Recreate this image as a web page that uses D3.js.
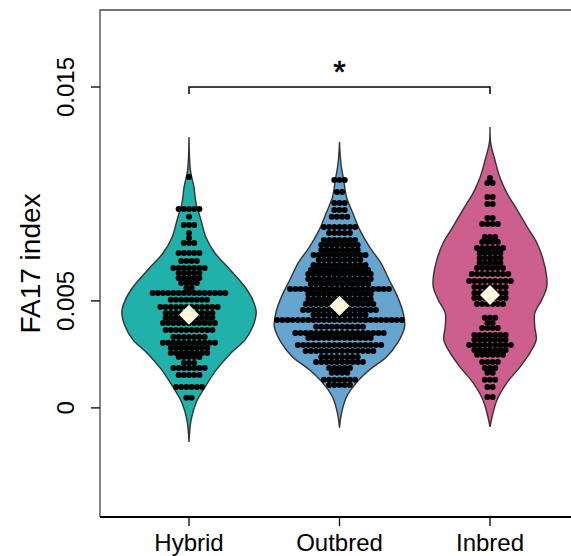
<!DOCTYPE html>
<html>
<head>
<meta charset="utf-8">
<script src="https://cdn.jsdelivr.net/npm/d3@7"></script>
<style>
  body { margin: 0; background: #fff; }
  text { font-family: "Liberation Sans", Arial, sans-serif; }
</style>
</head>
<body>
<svg id="vis" width="571" height="556"></svg>
<script>
// groups and colours
var groups = ["Hybrid", "Outbred", "Inbred"];
var colors = ["#20b2aa", "#67a5d1", "#cd5f8f"];
var yTicks = [0, 0.005, 0.015];
var yTickLabels = ["0", "0.005", "0.015"];
var means = [0.00435, 0.00477, 0.00528];

// violin outlines: [value, relative density]
var hybridDensity = [[0.01266,0],[0.01112,0.02],[0.01033,0.07],[0.00958,0.10],[0.00879,0.17],[0.00799,0.24],
  [0.00724,0.37],[0.00645,0.59],[0.00565,0.80],[0.00505,0.91],[0.00449,0.96],[0.00379,0.91],[0.00318,0.80],
  [0.00257,0.60],[0.00178,0.39],[0.00098,0.23],[0.00023,0.10],[-0.00056,0.03],[-0.00159,0]];
var outbredDensity = [[0.01243,0],[0.01145,0.02],[0.01065,0.06],[0.00986,0.10],[0.00911,0.19],[0.00832,0.29],
  [0.00752,0.43],[0.00678,0.59],[0.00598,0.71],[0.00519,0.83],[0.00444,0.91],[0.00379,0.93],[0.00304,0.83],
  [0.00238,0.67],[0.00178,0.43],[0.00117,0.24],[0.00051,0.10],[-0.00023,0.03],[-0.00093,0]];
var inbredDensity = [[0.01313,0],[0.01238,0.01],[0.01159,0.07],[0.01079,0.14],[0.01005,0.24],[0.00925,0.39],
  [0.00846,0.53],[0.00771,0.67],[0.00692,0.76],[0.00612,0.81],[0.00565,0.81],[0.00505,0.74],[0.00444,0.64],
  [0.00379,0.64],[0.00318,0.66],[0.00257,0.57],[0.00192,0.43],[0.00117,0.24],[0.00037,0.10],[-0.00042,0.03],[-0.00089,0]];

// dot rows: [value, number of dots]
var hybridDots = [[0.01079,1],[0.00930,5],[0.00893,1],[0.00855,3],[0.00818,1],[0.00794,1],[0.00771,3],[0.00724,5],
  [0.00687,4],[0.00654,7],[0.00631,5],[0.00607,5],[0.00584,4],[0.00561,2],[0.00537,15],[0.00505,8],[0.00472,12],
  [0.00444,10],[0.00421,10],[0.00397,11],[0.00364,10],[0.00332,7],[0.00304,11],[0.00280,8],[0.00257,8],[0.00238,5],
  [0.00210,3],[0.00187,7],[0.00154,5],[0.00098,6],[0.00047,2]];
var outbredDots = [[0.01065,3],[0.01009,2],[0.00958,3],[0.00925,3],[0.00893,4],[0.00846,7],[0.00818,5],[0.00785,7],
  [0.00762,8],[0.00738,8],[0.00715,11],[0.00692,9],[0.00668,11],[0.00645,12],[0.00626,13],[0.00603,13],[0.00579,12],
  [0.00556,20],[0.00533,13],[0.00509,13],[0.00486,14],[0.00458,15],[0.00435,11],[0.00411,25],[0.00379,10],[0.00350,18],
  [0.00327,13],[0.00294,17],[0.00266,14],[0.00238,8],[0.00215,10],[0.00187,5],[0.00164,4],[0.00131,7],[0.00107,5]];
var inbredDots = [[0.01075,1],[0.01051,2],[0.00986,2],[0.00953,2],[0.00888,2],[0.00860,4],[0.00799,3],[0.00776,4],
  [0.00748,6],[0.00724,5],[0.00701,5],[0.00678,5],[0.00654,6],[0.00626,8],[0.00593,9],[0.00565,7],[0.00537,7],
  [0.00514,7],[0.00486,6],[0.00421,3],[0.00397,2],[0.00374,4],[0.00341,7],[0.00318,7],[0.00294,9],[0.00271,7],
  [0.00248,6],[0.00215,4],[0.00187,3],[0.00164,2],[0.00131,3],[0.00098,2],[0.00051,2]];

var densities = [hybridDensity, outbredDensity, inbredDensity];
var dots = [hybridDots, outbredDots, inbredDots];

var svg = d3.select("#vis");
var mLeft = 100, mRight = 572, mTop = 10, mBottom = 517;

var x = d3.scalePoint().domain(groups).range([189, 490]);
var y = d3.scaleLinear().domain([-0.0051, 0.0186]).range([mBottom, mTop]);
var w = d3.scaleLinear().domain([0, 1]).range([0, 70]);
var dotStep = 5.2;

// violins
groups.forEach(function(g, i) {
  var cx = x(g);
  var area = d3.area()
    .y(function(d) { return y(d[0]); })
    .x0(function(d) { return cx - w(d[1]); })
    .x1(function(d) { return cx + w(d[1]); })
    .curve(d3.curveCatmullRom);
  svg.append("path")
    .datum(densities[i])
    .attr("d", area)
    .attr("fill", colors[i])
    .attr("stroke", "#333")
    .attr("stroke-width", 1.4);

  var pts = [];
  dots[i].forEach(function(r) {
    for (var k = 0; k < r[1]; k++) pts.push({ v: r[0], off: (k - (r[1] - 1) / 2) * dotStep });
  });
  svg.append("g").selectAll("circle")
    .data(pts)
    .enter().append("circle")
    .attr("cx", function(d) { return cx + d.off; })
    .attr("cy", function(d) { return y(d.v); })
    .attr("r", 3)
    .attr("fill", "#000");

  svg.append("path")
    .attr("d", d3.symbol(d3.symbolSquare, 200)())
    .attr("transform", "translate(" + cx + "," + y(means[i]) + ") rotate(45)")
    .attr("fill", "#fff8dc");
});

// box
svg.append("path")
  .attr("d", "M" + mRight + "," + mTop + "H" + mLeft + "V" + mBottom)
  .attr("fill", "none").attr("stroke", "#444").attr("stroke-width", 1.3);
svg.append("line")
  .attr("x1", mLeft).attr("x2", mRight).attr("y1", mBottom).attr("y2", mBottom)
  .attr("stroke", "#000").attr("stroke-width", 2);

// y axis
var ya = svg.append("g");
yTicks.forEach(function(t, i) {
  ya.append("line").attr("x1", mLeft - 9).attr("x2", mLeft).attr("y1", y(t)).attr("y2", y(t))
    .attr("stroke", "#000").attr("stroke-width", 1.3);
  ya.append("text")
    .attr("transform", "translate(74," + y(t) + ") rotate(-90)")
    .attr("text-anchor", "middle")
    .style("font-size", "24px")
    .text(yTickLabels[i]);
});
svg.append("text")
  .attr("transform", "translate(40," + ((mTop + mBottom) / 2) + ") rotate(-90)")
  .attr("text-anchor", "middle")
  .style("font-size", "28px")
  .text("FA17 index");

// x axis
groups.forEach(function(g) {
  svg.append("line").attr("x1", x(g)).attr("x2", x(g)).attr("y1", mBottom).attr("y2", mBottom + 9)
    .attr("stroke", "#000").attr("stroke-width", 1.3);
  svg.append("text")
    .attr("x", x(g)).attr("y", 551)
    .attr("text-anchor", "middle")
    .style("font-size", "24px")
    .text(g);
});

// significance bracket
var by = y(0.015);
svg.append("path")
  .attr("d", "M" + x("Hybrid") + "," + (by + 7) + "V" + by + "H" + x("Inbred") + "V" + (by + 7))
  .attr("fill", "none").attr("stroke", "#000").attr("stroke-width", 1.5);
svg.append("text")
  .attr("x", (x("Hybrid") + x("Inbred")) / 2).attr("y", by - 4)
  .attr("text-anchor", "middle")
  .style("font-size", "32px")
  .style("stroke", "#000").style("stroke-width", 0.6)
  .text("*");
</script>
</body>
</html>
